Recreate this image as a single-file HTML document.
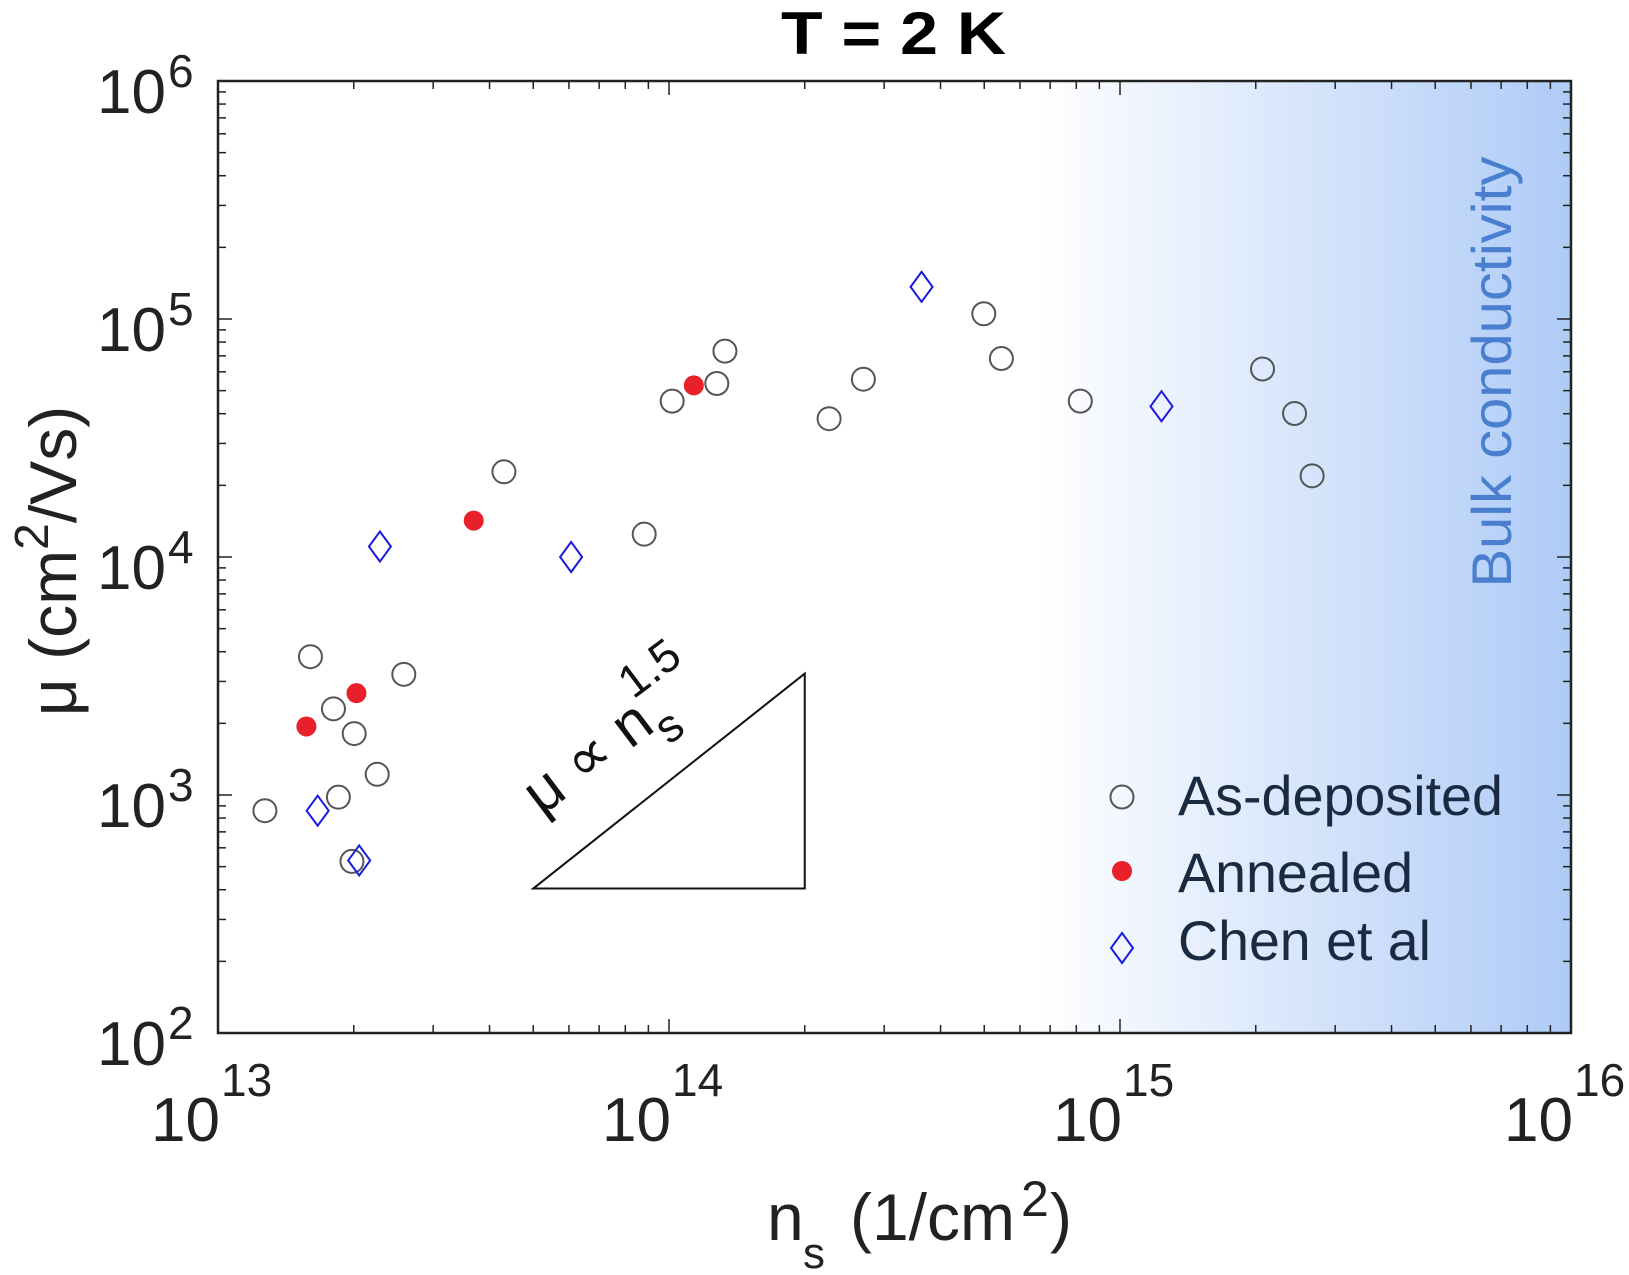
<!DOCTYPE html>
<html><head><meta charset="utf-8"><style>
html,body{margin:0;padding:0;background:#fff;}
svg{display:block;font-family:"Liberation Sans",sans-serif;}
</style></head><body>
<svg id="chart" width="1629" height="1275" viewBox="0 0 1629 1275" xmlns="http://www.w3.org/2000/svg">
<defs>
<linearGradient id="bulkGrad" x1="0" x2="1" y1="0" y2="0">
<stop offset="0" stop-color="#ffffff"/>
<stop offset="1" stop-color="#aecbf7"/>
</linearGradient>
</defs>
<g id="plot"></g>
</svg>
<script>
// data (log10 values)
const asDepX=[13.104,13.205,13.256,13.267,13.302,13.297,13.353,13.412,13.634,13.945,14.007,14.106,14.124,14.355,14.431,14.698,14.737,14.912,15.316,15.387,15.426];
const asDepY=[2.934,3.581,3.362,2.991,3.258,2.721,3.087,3.507,4.358,4.096,4.655,4.729,4.865,4.581,4.747,5.022,4.834,4.655,4.790,4.603,4.341];
const annX=[13.196,13.307,13.567,14.055];
const annY=[3.288,3.428,4.153,4.721];
const chenX=[13.359,13.221,13.313,13.783,14.560,15.092];
const chenY=[4.044,2.934,2.725,4.0,5.135,4.633];
const xTickExps=[13,14,15,16];
const yTickExps=[2,3,4,5,6];
const triX=[13.699,14.301];
const triY=[2.607,3.510];
const bulkStart=14.82;

const L=218,R=1571,T=81,B=1033;
const xs=v=>L+(v-13)/3*(R-L);
const ys=v=>B-(v-2)/4*(B-T);
const NS="http://www.w3.org/2000/svg";
const g=document.getElementById('plot');
function mk(tag,attrs,parent){const e=document.createElementNS(NS,tag);for(const k in attrs)e.setAttribute(k,attrs[k]);(parent||g).appendChild(e);return e;}

let bg=mk('rect',{x:xs(bulkStart),y:T,width:R-xs(bulkStart),height:B-T,fill:'url(#bulkGrad)'});


let bt=mk('text',{x:0,y:0,transform:`translate(1511,372) rotate(-90)`,'text-anchor':'middle','font-size':56,fill:'#4a7fd0',textLength:431,lengthAdjust:'spacingAndGlyphs'});
bt.textContent='Bulk conductivity';



// ticks
for(let d=13;d<16;d++)for(let m=1;m<10;m++){const v=d+Math.log10(m);if(m===1&&d===13)continue;const x=xs(v);const len=m===1?14:8;
 mk('line',{x1:x,x2:x,y1:B,y2:B-len,stroke:'#222','stroke-width':1.5});
 mk('line',{x1:x,x2:x,y1:T,y2:T+len,stroke:'#222','stroke-width':1.5});}
for(let d=2;d<6;d++)for(let m=1;m<10;m++){const v=d+Math.log10(m);if(m===1&&d===2)continue;const y=ys(v);const len=m===1?14:8;
 mk('line',{x1:L,x2:L+len,y1:y,y2:y,stroke:'#222','stroke-width':1.5});
 mk('line',{x1:R,x2:R-len,y1:y,y2:y,stroke:'#222','stroke-width':1.5});}
let fr=mk('rect',{x:L,y:T,width:R-L,height:B-T,fill:'none',stroke:'#222','stroke-width':2.5});



xTickExps.forEach(e=>{const x=xs(e);
 const t=mk('text',{x:x+2,y:B+108,'text-anchor':'end','font-size':62,fill:'#222'});
 t.textContent='10';
 
 
 const s=mk('text',{x:x+3,y:B+63,'font-size':46,fill:'#222'});s.textContent=String(e);
 
 });
yTickExps.forEach(e=>{const y=ys(e);
 const t=mk('text',{x:166,y:y+32,'text-anchor':'end','font-size':62,fill:'#222'});
 t.textContent='10';
 
 
 const s=mk('text',{x:168,y:y+6,'font-size':46,fill:'#222'});s.textContent=String(e);
 
 });

// triangle
let tri=mk('polygon',{points:`${xs(triX[0])},${ys(triX.length?triY[0]:0)} ${xs(triX[1])},${ys(triY[0])} ${xs(triX[1])},${ys(triY[1])}`,fill:'none',stroke:'#111','stroke-width':2});


let tl=mk('text',{x:0,y:0,transform:`translate(${xs(13.7)+8},${ys(2.86)-12}) rotate(-37)`,'font-size':60,fill:'#111'});
tl.textContent='μ ∝ n';
let sb=mk('tspan',{dy:20,'font-size':46},tl);sb.textContent='s';
let sp=mk('tspan',{dx:-24,dy:-58,'font-size':46},tl);sp.textContent='1.5';



function circ(x,y,p){const c=mk('circle',{cx:x,cy:y,r:11.5,fill:'none',stroke:'#555','stroke-width':2},p);return c;}
function dot(x,y,p){return mk('circle',{cx:x,cy:y,r:10,fill:'#e8202a'},p);}
function dia(x,y,p){return mk('polygon',{points:`${x},${y-15} ${x+11},${y} ${x},${y+15} ${x-11},${y}`,fill:'none',stroke:'#1a1ae0','stroke-width':2},p);}

asDepX.forEach((v,i)=>{const c=circ(xs(v),ys(asDepY[i]));
 
 });
annX.forEach((v,i)=>{const c=dot(xs(v),ys(annY[i]));
 
 });
chenX.forEach((v,i)=>{const c=dia(xs(v),ys(chenY[i]));
 
 });

// legend
const legY=[797,871,948];const legT=['As-deposited','Annealed','Chen et al'];const legW=[325,235,253];const legB=[815,892,960];
[circ,dot,dia].forEach((f,i)=>{const m=f(1122,legY[i]);
 
 
 const t=mk('text',{x:1178,y:legB[i],'font-size':56,fill:'#1a2a40',textLength:legW[i],lengthAdjust:'spacingAndGlyphs'});t.textContent=legT[i];
 
 });

// titles
let ti=mk('text',{x:781,y:54,'font-size':60,'font-weight':'bold',fill:'#000',textLength:225,lengthAdjust:'spacingAndGlyphs'});ti.textContent='T = 2 K';


let yl=mk('text',{x:0,y:0,transform:'translate(76,561) rotate(-90)','text-anchor':'middle','font-size':66,fill:'#222'});
yl.textContent='μ (cm';let y2=mk('tspan',{dy:-28,'font-size':48},yl);y2.textContent='2';let y3=mk('tspan',{dy:28},yl);y3.textContent='/Vs)';


let xl=mk('text',{x:767,y:1240,'font-size':66,fill:'#222'});
xl.textContent='n';let x2=mk('tspan',{x:803,y:1268,'font-size':44},xl);x2.textContent='s';let x3=mk('tspan',{x:850,y:1240},xl);x3.textContent='(1/cm';
let x4=mk('tspan',{x:1021,y:1216,'font-size':50},xl);x4.textContent='2';let x5=mk('tspan',{x:1050,y:1240},xl);x5.textContent=')';


</script>
</body></html>
